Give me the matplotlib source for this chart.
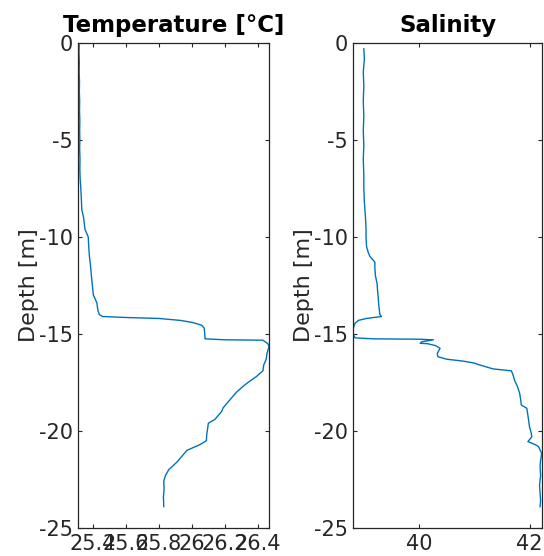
import matplotlib
matplotlib.use("Agg")
import matplotlib.pyplot as plt

# CTD cast
temp_depth = [-0.1, -0.5, -1.0, -1.5, -2.0, -2.5, -3.0, -3.5, -4.0, -4.5,
              -5.0, -5.5, -6.0, -6.5, -7.0, -7.5, -8.0, -8.6, -9.0, -9.6,
              -10.0, -10.5, -11.0, -11.4, -12.0, -12.5, -13.0, -13.1, -13.4, -13.8,
              -14.0, -14.1, -14.15, -14.2, -14.3, -14.4, -14.55, -14.7, -15.0, -15.25,
              -15.3, -15.32, -15.5, -15.65, -16.0, -16.3, -16.6, -16.9, -17.2, -17.5,
              -17.7, -18.0, -18.2, -18.5, -18.8, -19.0, -19.2, -19.4, -19.6, -19.9,
              -20.2, -20.5, -20.7, -21.0, -21.3, -21.6, -22.0, -22.3, -22.6, -23.0,
              -23.4, -23.9]
temperature = [25.318, 25.317, 25.319, 25.318, 25.320, 25.319, 25.321, 25.320, 25.322, 25.321,
               25.322, 25.321, 25.323, 25.322, 25.324, 25.328, 25.331, 25.334, 25.345, 25.353,
               25.373, 25.376, 25.380, 25.386, 25.392, 25.398, 25.404, 25.410, 25.425, 25.432,
               25.440, 25.460, 25.600, 25.800, 25.930, 26.000, 26.060, 26.075, 26.078, 26.080,
               26.200, 26.430, 26.460, 26.467, 26.455, 26.450, 26.435, 26.430, 26.390, 26.340,
               26.310, 26.270, 26.250, 26.220, 26.190, 26.180, 26.160, 26.140, 26.100, 26.095,
               26.090, 26.088, 26.050, 25.970, 25.940, 25.910, 25.860, 25.840, 25.830, 25.832,
               25.828, 25.830]

sal_depth = [-0.3, -0.8, -1.5, -2.2, -3.0, -3.8, -4.5, -5.3, -6.0, -6.8,
             -7.5, -8.2, -9.0, -9.6, -10.0, -10.5, -10.8, -11.0, -11.3, -11.6,
             -12.0, -12.4, -12.8, -13.1, -13.5, -14.0, -14.1, -14.2, -14.3, -14.45,
             -14.7, -14.96, -15.2, -15.25, -15.27, -15.3, -15.4, -15.48, -15.5, -15.6,
             -15.74, -16.0, -16.17, -16.3, -16.4, -16.5, -16.6, -16.8, -16.9, -17.1,
             -17.4, -17.7, -18.05, -18.4, -18.66, -18.83, -19.2, -19.6, -19.8, -20.1,
             -20.3, -20.55, -20.7, -20.8, -21.15, -21.5, -21.8, -22.3, -22.8, -23.2,
             -23.6, -23.9]
salinity = [39.00, 39.01, 38.99, 39.00, 38.99, 39.00, 38.99, 39.00, 38.99, 39.00,
            39.00, 39.01, 39.03, 39.04, 39.04, 39.05, 39.08, 39.11, 39.20, 39.20,
            39.21, 39.24, 39.25, 39.26, 39.27, 39.29, 39.32, 39.05, 38.90, 38.84,
            38.81, 38.80, 38.84, 39.17, 40.00, 40.26, 40.05, 40.02, 40.15, 40.30,
            40.38, 40.33, 40.34, 40.50, 40.80, 41.00, 41.10, 41.34, 41.67, 41.70,
            41.73, 41.78, 41.82, 41.84, 41.85, 41.95, 41.97, 41.99, 42.00, 42.03,
            42.04, 41.97, 42.10, 42.16, 42.22, 42.20, 42.19, 42.20, 42.18, 42.19,
            42.20, 42.19]

temp_ticks = [25.4, 25.6, 25.8, 26, 26.2, 26.4]
temp_labels = ["25.4", "25.6", "25.8", "26", "26.2", "26.4"]
sal_ticks = [40, 42]
depth_ticks = [0, -5, -10, -15, -20, -25]

plt.rcParams["font.family"] = "DejaVu Sans"
plt.rcParams["axes.unicode_minus"] = False

line_color = "#0072BD"
axis_color = "#262626"

fig = plt.figure(figsize=(5.44, 5.56), dpi=100)
ax1 = fig.add_axes([0.1443, 0.0504, 0.3502, 0.8723])
ax2 = fig.add_axes([0.6495, 0.0504, 0.3463, 0.8723])

panels = [
    (ax1, temperature, temp_depth, "Temperature [°C]", (25.314, 26.467)),
    (ax2, salinity, sal_depth, "Salinity", (38.81, 42.22)),
]

for ax, xs, ys, title, xlim in panels:
    ax.plot(xs, ys, color=line_color, lw=1.0)
    ax.set_xlim(*xlim)
    ax.set_ylim(-25, 0)
    ax.set_yticks(depth_ticks)
    ax.set_yticklabels([str(d) for d in depth_ticks])
    ax.set_ylabel("Depth [m]", fontsize=16, color=axis_color, labelpad=0)
    ax.set_title(title, fontsize=16.5, fontweight="bold", pad=8)
    ax.tick_params(direction="in", length=3, width=0.8, top=True, right=True,
                   labelsize=15, colors=axis_color, pad=4)
    for sp in ax.spines.values():
        sp.set_color(axis_color)
        sp.set_linewidth(0.9)

ax1.set_xticks(temp_ticks)
ax1.set_xticklabels(temp_labels)
ax2.set_xticks(sal_ticks)

fig.savefig("out.png", dpi=100)
